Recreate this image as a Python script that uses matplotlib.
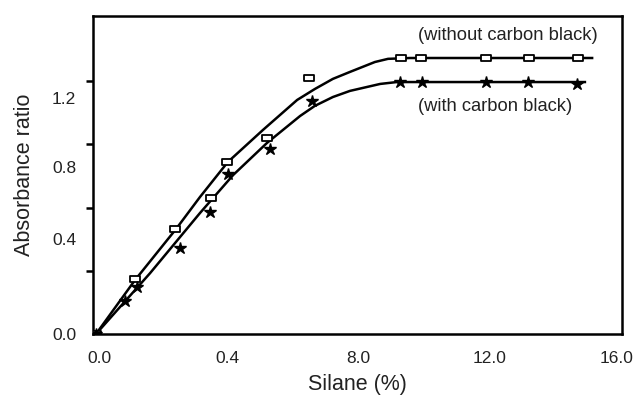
import matplotlib.pyplot as plt
from matplotlib.path import Path

plt.rcParams['font.family'] = ['Liberation Sans', 'DejaVu Sans']

# measured points
sq_x = [0, 1.2, 2.4, 3.5, 4.0, 5.2, 6.5, 9.3, 9.9, 11.9, 13.2, 14.7]
sq_y = [0, 0.26, 0.50, 0.645, 0.816, 0.93, 1.214, 1.31, 1.31, 1.31, 1.31, 1.31]
st_x = [0, 0.88, 1.25, 2.56, 3.47, 4.02, 5.3, 6.58, 9.27, 9.94, 11.89, 13.17, 14.66]
st_y = [0, 0.157, 0.223, 0.408, 0.579, 0.76, 0.878, 1.105, 1.195, 1.195, 1.195, 1.195, 1.186]

# fitted curves
up_x = [0, 1.19, 2.44, 3.17, 4.02, 5.09, 6.13, 6.67, 7.22, 7.74, 8.5, 8.9, 9.57, 15.12]
up_y = [0, 0.256, 0.498, 0.65, 0.816, 0.968, 1.11, 1.162, 1.21, 1.243, 1.29, 1.305, 1.309, 1.309]
lo_x = [0, 1.65, 3.17, 4.18, 5.21, 6.22, 6.67, 7.22, 7.74, 8.66, 9.17, 14.9]
lo_y = [0, 0.289, 0.574, 0.754, 0.906, 1.034, 1.082, 1.124, 1.153, 1.186, 1.195, 1.195]

x_ticks = [0.1, 4, 8, 12, 15.85]
x_labels = ['0.0', '0.4', '8.0', '12.0', '16.0']
x_marks = [4, 8, 12]
y_ticks = [0, 0.45, 0.79, 1.12]
y_labels = ['0.0', '0.4', '0.8', '1.2']
y_marks = [0.3, 0.6, 0.9, 1.2]

# flat open box marker
box = Path([(-1, -0.65), (1, -0.65), (1, 0.65), (-1, 0.65), (-1, -0.65)],
           [Path.MOVETO, Path.LINETO, Path.LINETO, Path.LINETO, Path.CLOSEPOLY])

fig = plt.figure(figsize=(6.35, 4.01), dpi=100)
ax = fig.add_axes([0.1465, 0.167, 0.833, 0.793])

ax.plot(up_x, up_y, color='black', lw=1.8, zorder=2)
ax.plot(lo_x, lo_y, color='black', lw=1.8, zorder=2)
ax.plot(sq_x, sq_y, ls='none', marker=box, ms=7.5, mfc='white', mec='black', mew=1.3, zorder=3)
ax.plot(st_x, st_y, ls='none', marker='*', ms=9, color='black', zorder=4)

ax.text(12.55, 1.418, '(without carbon black)', fontsize=13.2, color='#222', ha='center', va='center')
ax.text(12.16, 1.077, '(with carbon black)', fontsize=13.2, color='#222', ha='center', va='center')

ax.set_xlim(-0.09, 16.03)
ax.set_ylim(0, 1.508)

ax.set_xticks(x_ticks, x_labels)
ax.set_xticks(x_marks, minor=True)
ax.set_yticks(y_ticks, y_labels)
ax.set_yticks(y_marks, minor=True)
ax.tick_params(which='major', length=0, pad=12, labelsize=12.5, labelcolor='#222')
ax.tick_params(which='minor', length=5, width=1.8, direction='out')

for s in ax.spines.values():
    s.set_linewidth(1.8)

ax.set_xlabel('Silane (%)', fontsize=15.5, color='#222', labelpad=6)
ax.set_ylabel('Absorbance ratio', fontsize=15.5, color='#222', labelpad=12)

fig.savefig('out.png', dpi=100)
